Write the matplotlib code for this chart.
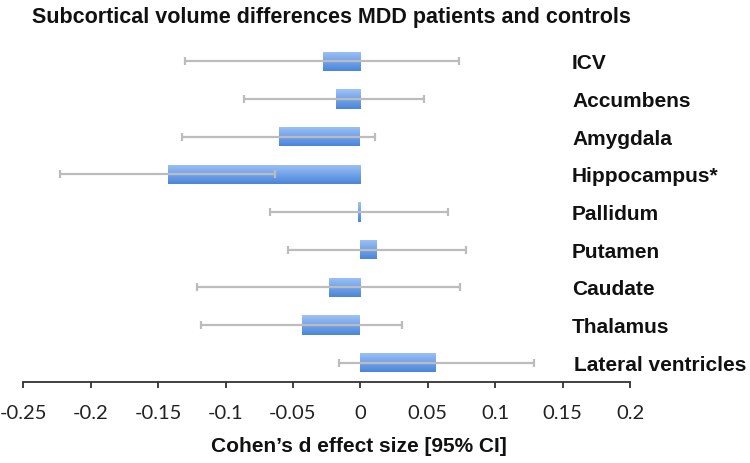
import matplotlib
matplotlib.use("Agg")
import matplotlib.pyplot as plt
import matplotlib.transforms as mtransforms
from matplotlib.colors import LinearSegmentedColormap
import numpy as np

# ---- data ----
regions = ["ICV", "Accumbens", "Amygdala", "Hippocampus*", "Pallidum",
           "Putamen", "Caudate", "Thalamus", "Lateral ventricles"]
effect_d = [-0.028, -0.018, -0.060, -0.143, -0.0015, 0.012, -0.023, -0.043, 0.056]
ci_low = [-0.130, -0.086, -0.132, -0.223, -0.067, -0.054, -0.121, -0.118, -0.016]
ci_high = [0.073, 0.047, 0.011, -0.063, 0.065, 0.078, 0.074, 0.031, 0.129]
tick_values = [-0.25, -0.2, -0.15, -0.1, -0.05, 0, 0.05, 0.1, 0.15, 0.2]
tick_labels = ["-0.25", "-0.2", "-0.15", "-0.1", "-0.05", "0", "0.05", "0.1", "0.15", "0.2"]
title = "Subcortical volume differences MDD patients and controls"
xlabel = "Cohen\u2019s d effect size [95% CI]"

W, H = 750, 464
fig = plt.figure(figsize=(W / 100, H / 100), dpi=100)
ax = fig.add_axes([23.3 / W, 1 - 382.5 / H, 606.7 / W, 339 / H])

y = np.arange(len(regions))
bars = ax.barh(y, effect_d, height=0.52, color="#6d9fe6", edgecolor="none", zorder=2)

# vertical gradient inside each bar
cmap = LinearSegmentedColormap.from_list("blu", ["#9ec3f5", "#74a4ea", "#4a85d8"])
grad = np.linspace(0, 1, 64).reshape(-1, 1)
for b in bars:
    x0, y0 = b.get_x(), b.get_y()
    w, h = b.get_width(), b.get_height()
    im = ax.imshow(grad, extent=[x0, x0 + w, y0 + h, y0], aspect="auto",
                   cmap=cmap, zorder=2.5, interpolation="bilinear")
    im.set_clip_path(b)

d = np.array(effect_d)
xerr = np.vstack([d - np.array(ci_low), np.array(ci_high) - d])
ax.errorbar(d, y, xerr=xerr, fmt="none", ecolor="#bcbcbc", elinewidth=1.6,
            capsize=3.0, capthick=1.6, zorder=3)

ax.set_xlim(-0.25, 0.2)
ax.set_ylim(len(regions) - 0.5, -0.5)
ax.set_aspect("auto")

for s in ["left", "top", "right"]:
    ax.spines[s].set_visible(False)
ax.spines["bottom"].set_color("#333333")
ax.spines["bottom"].set_linewidth(1.3)
ax.set_yticks([])
ax.set_xticks(tick_values)
ax.set_xticklabels(tick_labels, fontfamily="Lato", fontsize=14.5, color="#222222")
ax.tick_params(axis="x", direction="out", length=4, width=1.3, color="#333333", pad=12.5)

# region labels on the right
trans = mtransforms.blended_transform_factory(ax.transAxes, ax.transData)
for i, name in enumerate(regions):
    xf = 0.907 if i == len(regions) - 1 else 0.9044
    t = mtransforms.offset_copy(trans, fig=fig, x=0, y=-7, units="dots")
    ax.text(xf, i, name, transform=t, ha="left", va="baseline",
            fontfamily="Liberation Sans", fontweight="bold", fontsize=15, color="#111111")

fig.text(32 / W, 1 - 17 / H, title, ha="left", va="center",
         fontfamily="Liberation Sans", fontweight="bold", fontsize=15.5, color="#111111")
fig.text(359 / W, 1 - 447 / H, xlabel, ha="center", va="center",
         fontfamily="Liberation Sans", fontweight="bold", fontsize=15, color="#111111")

fig.savefig("out.png", dpi=100)
